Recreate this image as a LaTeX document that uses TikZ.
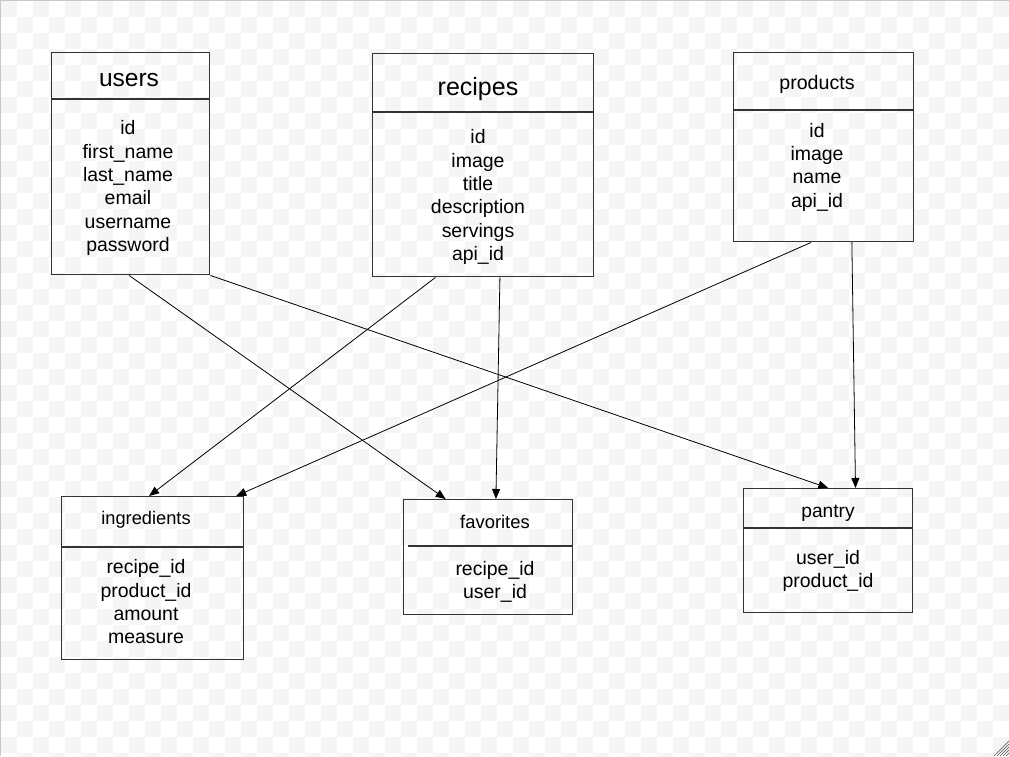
\documentclass[tikz,border=0pt]{standalone}
\usepackage{fontspec}
\setmainfont{Liberation Sans}
\usetikzlibrary{calc,arrows.meta}
\definecolor{checker}{HTML}{F5F5F5}
\definecolor{frame}{HTML}{C8C8C8}
\tikzset{
    table/.style={draw=black!80, line width=1.1pt, rectangle, inner sep=0pt, anchor=north west},
    divider/.style={draw=black!80, line width=1.1pt},
    title/.style={font=\fontsize{14}{17}\selectfont},
    fields/.style={align=center, font=\fontsize{14.6}{17.5}\selectfont},
    fk/.style={-{Triangle[length=7.5pt,width=6pt]}, line width=0.6pt},
  }

\begin{document}
\begin{tikzpicture}[x=0.75pt,y=-0.75pt]
				  %fond
				  \useasboundingbox (0,0) rectangle (1009,756);
				  \fill[white] (0,0) rectangle (1009,756);
				  \foreach \j in {0,2,...,46}
				    \foreach \i in {0,2,...,62}{
				      \fill[checker] (\i*16+1,\j*16+1) rectangle ++(16,16);
				      \fill[checker] (\i*16+17,\j*16+17) rectangle ++(16,16);
				    }
				  \draw[frame, line width=1pt] (0.5,756) -- (0.5,0.5) -- (1009,0.5);
				  \foreach \k in {0,3,...,12}
				    \draw[black!70, line width=0.5pt] (994+\k,756) -- (1009,741+\k);

				  %tables
				  \node[table, minimum width=118.5pt, minimum height=166.5pt] (users) at (51,52) {};
				  \draw[divider] (51,99) -- (209,99);
				  \node[title, font=\fontsize{18.4}{22}\selectfont] (users-title) at (129,80) {users};
				  \node[fields] (users-fields) at (128,188) {id\\first\_name\\last\_name\\email\\username\\password};

				  \node[table, minimum width=165.75pt, minimum height=167.25pt] (recipes) at (372,53) {};
				  \draw[divider] (372,112) -- (593,112);
				  \node[title, font=\fontsize{18.75}{22}\selectfont] (recipes-title) at (478,89) {recipes};
				  \node[fields] (recipes-fields) at (478,197) {id\\image\\title\\description\\servings\\api\_id};

				  \node[table, minimum width=135pt, minimum height=141.75pt] (products) at (733,52) {};
				  \draw[divider] (733,110) -- (913,110);
				  \node[title, font=\fontsize{14.7}{17}\selectfont] (products-title) at (817,84) {products};
				  \node[fields] (products-fields) at (817,167) {id\\image\\name\\api\_id};

				  \node[table, minimum width=136.5pt, minimum height=122.25pt] (ingredients) at (61,496) {};
				  \draw[divider] (61,547) -- (243,547);
				  \node[title, font=\fontsize{13.7}{17}\selectfont] (ingredients-title) at (146,520) {ingredients};
				  \node[fields] (ingredients-fields) at (146,602) {recipe\_id\\product\_id\\amount\\measure};

				  \node[table, minimum width=126.75pt, minimum height=86.25pt] (favorites) at (403,499) {};
				  \draw[divider] (408,546) -- (572,546);
				  \node[title, font=\fontsize{13.8}{17}\selectfont] (favorites-title) at (495,522) {favorites};
				  \node[fields] (favorites-fields) at (495,582) {recipe\_id\\user\_id};

				  \node[table, minimum width=126.75pt, minimum height=93pt] (pantry) at (743,488) {};
				  \draw[divider] (743,528) -- (912,528);
				  \node[title, font=\fontsize{14.4}{17}\selectfont] (pantry-title) at (828,513) {pantry};
				  \node[fields] (pantry-fields) at (828,571) {user\_id\\product\_id};

				  %liens
				  \draw[fk] ($(users.south west)!.49!(users.south east)$) -- ($(favorites.north west)!.25!(favorites.north east)$);
				  \draw[fk] (users.south east) -- ($(pantry.north west)!.50!(pantry.north east)$);
				  \draw[fk] ($(recipes.south west)!.285!(recipes.south east)$) -- ($(ingredients.north west)!.48!(ingredients.north east)$);
				  \draw[fk] ($(recipes.south west)!.575!(recipes.south east)$) -- ($(favorites.north west)!.545!(favorites.north east)$);
				  \draw[fk] ($(products.south west)!.43!(products.south east)$) -- ($(ingredients.north west)!.955!(ingredients.north east)$);
				  \draw[fk] ($(products.south west)!.655!(products.south east)$) -- ($(pantry.north west)!.66!(pantry.north east)$);
				  \end{tikzpicture}
\end{document}
